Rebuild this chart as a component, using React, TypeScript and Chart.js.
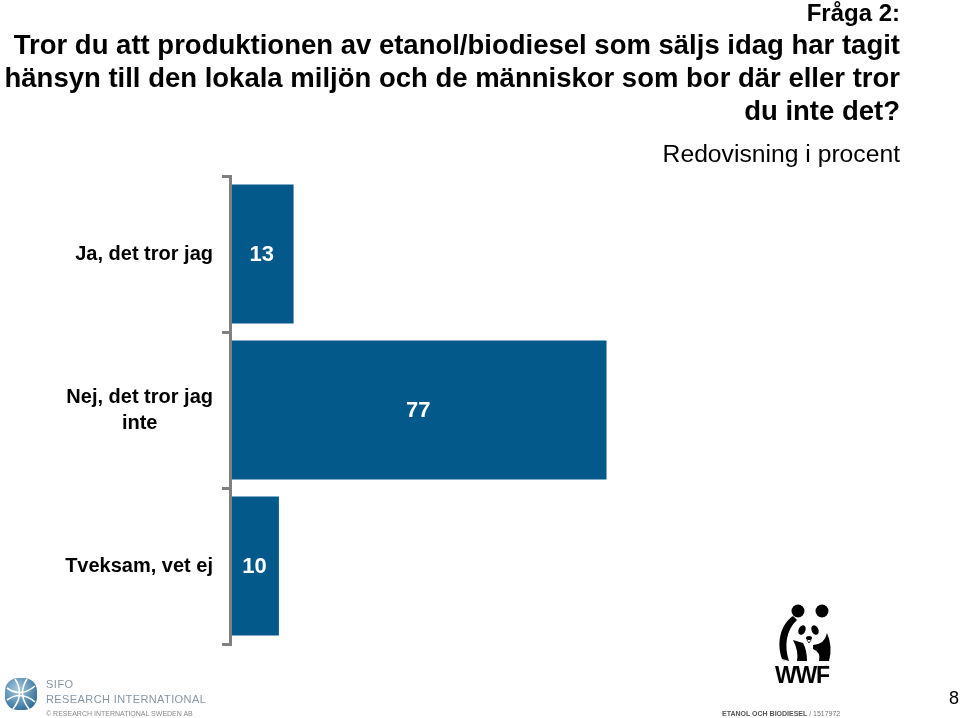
import React, { useEffect, useRef } from "react";
import { Chart, registerables } from "chart.js";
Chart.register(...registerables);

const categories = ["Ja, det tror jag", "Nej, det tror jag\ninte", "Tveksam, vet ej"];
const values = [13, 77, 10];
const xMax = 100;

const titleLines = [
  "Tror du att produktionen av etanol/biodiesel som säljs idag har tagit",
  "hänsyn till den lokala miljön och de människor som bor där eller tror",
  "du inte det?",
];

const BAR = "#02598A";
const AXIS = "#808080";
const FONT = "'Liberation Sans', Arial, Helvetica, sans-serif";

const labelPlugin = {
  id: "catLabels",
  afterDraw(chart: any) {
    const ctx = chart.ctx;
    const ys = chart.scales.y;
    ctx.save();
    ctx.font = `bold 20px ${FONT}`;
    ctx.fillStyle = "#000";
    ctx.textBaseline = "middle";
    ctx.textAlign = "center";
    categories.forEach((c, i) => {
      const lines = c.split("\n");
      const py = ys.getPixelForValue(i);
      const w = Math.max(...lines.map((l) => ctx.measureText(l).width));
      const cx = 213 - w / 2;
      const lh = 26;
      lines.forEach((l, j) => {
        ctx.fillText(l, cx, py + (j - (lines.length - 1) / 2) * lh);
      });
    });
    const meta = chart.getDatasetMeta(0);
    ctx.font = `bold 22px ${FONT}`;
    ctx.fillStyle = "#fff";
    meta.data.forEach((el: any, i: number) => {
      const p = el.getProps(["x", "base", "y"], true);
      ctx.fillText(String(values[i]), (p.x + p.base) / 2, p.y + 1);
    });
    ctx.restore();
  },
};

function Panda() {
  return (
    <svg width="62" height="84" viewBox="0 0 62 84" style={{ position: "absolute", left: 772, top: 602 }}>
      <circle cx="26" cy="9" r="6.5" fill="#000" />
      <circle cx="50" cy="9" r="6.5" fill="#000" />
      <path d="M21 14 C9 22 4 40 10 57 L17 59 C12 44 14 28 25 18 Z" fill="#000" />
      <ellipse cx="30" cy="28" rx="3.4" ry="5" transform="rotate(25 30 28)" fill="#000" />
      <ellipse cx="43" cy="28" rx="3.4" ry="5" transform="rotate(-25 43 28)" fill="#000" />
      <ellipse cx="37" cy="36" rx="3" ry="2" fill="#000" />
      <path d="M35 38 L37 41 L39 38" stroke="#000" strokeWidth="0.8" fill="none" />
      <path d="M21 38 Q27 50 25 59 L35 59 Q35 48 31 41 Z" fill="#000" />
      <path d="M41 43 Q53 42 55 31 Q61 45 57 59 L47 59 Q49 50 41 47 Z" fill="#000" />
      <text x="10" y="60" fontSize="5" fill="#888">®</text>
      <text x="52" y="66" fontSize="5" fill="#888">®</text>
      <text x="30" y="81" textAnchor="middle" fontFamily={FONT} fontWeight="900" fontSize="23" fill="#000" letterSpacing="-1.2">WWF</text>
    </svg>
  );
}

function Globe() {
  return (
    <svg width="36" height="36" viewBox="0 0 36 36" style={{ position: "absolute", left: 3, top: 676 }}>
      <defs>
        <radialGradient id="g" cx="40%" cy="35%" r="70%">
          <stop offset="0%" stopColor="#a9cbe0" />
          <stop offset="100%" stopColor="#2f6d98" />
        </radialGradient>
      </defs>
      <rect x="2" y="2" width="32" height="32" rx="13" fill="url(#g)" />
      <g stroke="#fff" strokeWidth="1.6" fill="none">
        <path d="M4 12 Q18 22 32 10" />
        <path d="M4 24 Q18 14 32 26" />
        <path d="M12 3 Q22 18 10 33" />
        <path d="M24 3 Q14 18 26 33" />
      </g>
    </svg>
  );
}

export default function App() {
  const ref = useRef<HTMLCanvasElement | null>(null);
  useEffect(() => {
    if (!ref.current) return;
    const chart = new Chart(ref.current, {
      type: "bar",
      data: {
        labels: categories,
        datasets: [
          {
            data: values,
            backgroundColor: BAR,
            borderWidth: 0,
            categoryPercentage: 0.89,
            barPercentage: 1,
          },
        ],
      },
      options: {
        indexAxis: "y",
        animation: false,
        responsive: false,
        maintainAspectRatio: false,
        layout: { padding: { top: 176, bottom: 74, left: 0, right: 241 } },
        plugins: {
          legend: { display: false },
          tooltip: { enabled: false },
          title: { display: false },
        },
        scales: {
          x: { display: false, min: 0, max: xMax },
          y: {
            ticks: { display: false },
            grid: { drawOnChartArea: false, drawTicks: true, tickLength: 8, color: AXIS, lineWidth: 3 },
            border: { display: true, color: AXIS, width: 3, z: 1 },
            afterFit: (s: any) => {
              s.width = 230;
            },
          },
        },
      },
      plugins: [labelPlugin],
    } as any);
    return () => chart.destroy();
  }, []);

  const txt = { position: "absolute" as const, fontFamily: FONT, whiteSpace: "nowrap" as const };
  return (
    <div style={{ position: "absolute", left: 0, top: 0, width: 960, height: 718, overflow: "hidden", background: "#fff" }}>
      <canvas ref={ref} width={960} height={718} style={{ position: "absolute", left: 0, top: 0, width: 960, height: 718 }} />
      <div style={{ ...txt, right: 60, top: 0, fontSize: 24, fontWeight: "bold", lineHeight: "26px", textAlign: "right" }}>Fråga 2:</div>
      <div style={{ ...txt, right: 60, top: 28, fontSize: 27.5, fontWeight: "bold", lineHeight: "33px", textAlign: "right" }}>
        {titleLines.map((l, i) => (
          <div key={i}>{l}</div>
        ))}
      </div>
      <div style={{ ...txt, right: 60, top: 140, fontSize: 24.7, lineHeight: "28px", textAlign: "right" }}>Redovisning i procent</div>
      <Globe />
      <div style={{ ...txt, left: 46, top: 678, fontSize: 11, color: "#8796a3", letterSpacing: "0.5px", lineHeight: "12px" }}>SIFO</div>
      <div style={{ ...txt, left: 46, top: 693, fontSize: 11, color: "#8796a3", letterSpacing: "0.4px", lineHeight: "13px" }}>RESEARCH INTERNATIONAL</div>
      <div style={{ ...txt, left: 46, top: 709, fontSize: 7, color: "#888", lineHeight: "9px" }}>© RESEARCH INTERNATIONAL SWEDEN AB</div>
      <Panda />
      <div style={{ ...txt, left: 722, top: 709, fontSize: 7, color: "#555", fontWeight: "bold", lineHeight: "9px" }}>
        ETANOL OCH BIODIESEL <span style={{ fontWeight: "normal", color: "#777" }}>/ 1517972</span>
      </div>
      <div style={{ ...txt, right: 1, top: 688, fontSize: 18, lineHeight: "20px", color: "#000" }}>8</div>
    </div>
  );
}
